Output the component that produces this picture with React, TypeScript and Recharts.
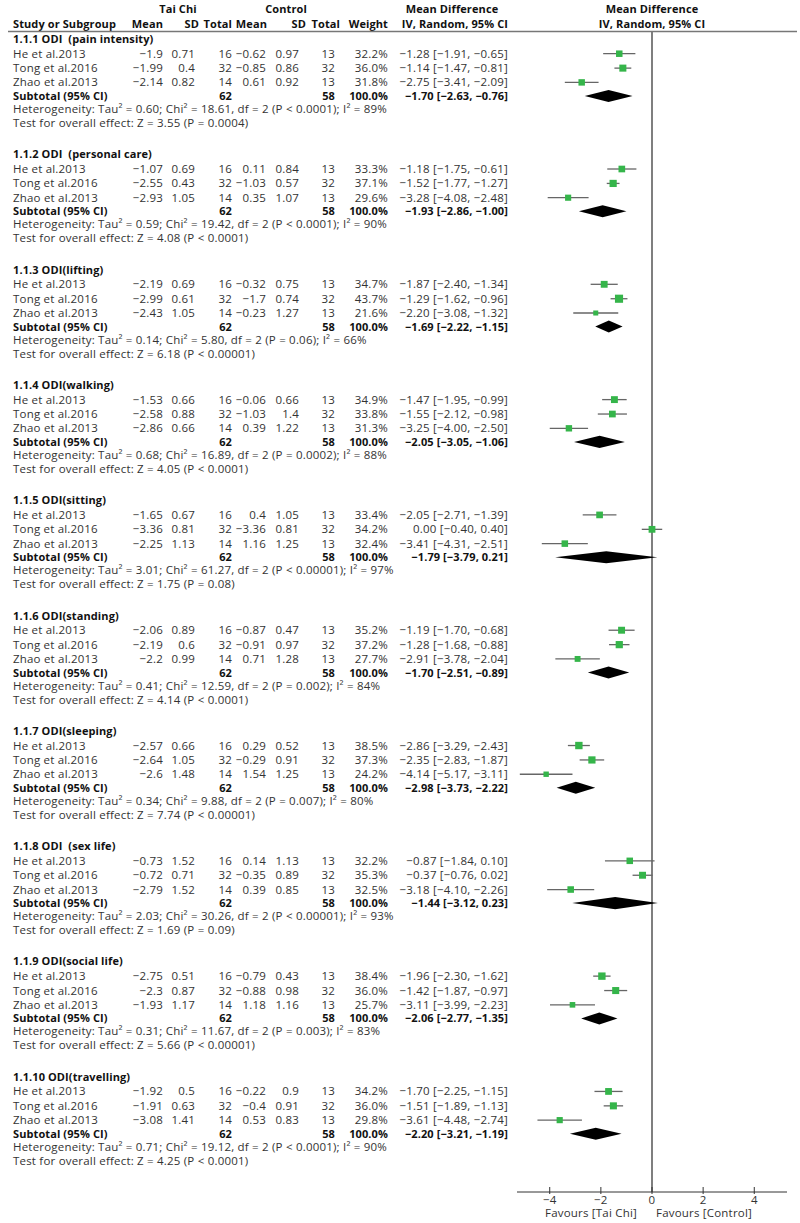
import { ScatterChart, Scatter, XAxis, YAxis, ErrorBar, ReferenceLine } from "recharts";

const subgroups = [
  "1.1.1 ODI  (pain intensity)",
  "1.1.2 ODI  (personal care)",
  "1.1.3 ODI(lifting)",
  "1.1.4 ODI(walking)",
  "1.1.5 ODI(sitting)",
  "1.1.6 ODI(standing)",
  "1.1.7 ODI(sleeping)",
  "1.1.8 ODI  (sex life)",
  "1.1.9 ODI(social life)",
  "1.1.10 ODI(travelling)",
];
const studies = ["He et al.2013", "Tong et al.2016", "Zhao et al.2013"];
const taiChiTotal = [16, 32, 14];
const controlTotal = [13, 32, 13];

const taiChiMean = [
  [-1.9, -1.99, -2.14],
  [-1.07, -2.55, -2.93],
  [-2.19, -2.99, -2.43],
  [-1.53, -2.58, -2.86],
  [-1.65, -3.36, -2.25],
  [-2.06, -2.19, -2.2],
  [-2.57, -2.64, -2.6],
  [-0.73, -0.72, -2.79],
  [-2.75, -2.3, -1.93],
  [-1.92, -1.91, -3.08],
];
const taiChiSD = [
  [0.71, 0.4, 0.82],
  [0.69, 0.43, 1.05],
  [0.69, 0.61, 1.05],
  [0.66, 0.88, 0.66],
  [0.67, 0.81, 1.13],
  [0.89, 0.6, 0.99],
  [0.66, 1.05, 1.48],
  [1.52, 0.71, 1.52],
  [0.51, 0.87, 1.17],
  [0.5, 0.63, 1.41],
];
const controlMean = [
  [-0.62, -0.85, 0.61],
  [0.11, -1.03, 0.35],
  [-0.32, -1.7, -0.23],
  [-0.06, -1.03, 0.39],
  [0.4, -3.36, 1.16],
  [-0.87, -0.91, 0.71],
  [0.29, -0.29, 1.54],
  [0.14, -0.35, 0.39],
  [-0.79, -0.88, 1.18],
  [-0.22, -0.4, 0.53],
];
const controlSD = [
  [0.97, 0.86, 0.92],
  [0.84, 0.57, 1.07],
  [0.75, 0.74, 1.27],
  [0.66, 1.4, 1.22],
  [1.05, 0.81, 1.25],
  [0.47, 0.97, 1.28],
  [0.52, 0.91, 1.25],
  [1.13, 0.89, 0.85],
  [0.43, 0.98, 1.16],
  [0.9, 0.91, 0.83],
];
const weights = [
  [32.2, 36.0, 31.8],
  [33.3, 37.1, 29.6],
  [34.7, 43.7, 21.6],
  [34.9, 33.8, 31.3],
  [33.4, 34.2, 32.4],
  [35.2, 37.2, 27.7],
  [38.5, 37.3, 24.2],
  [32.2, 35.3, 32.5],
  [38.4, 36.0, 25.7],
  [34.2, 36.0, 29.8],
];
const meanDiff = [
  [-1.28, -1.14, -2.75],
  [-1.18, -1.52, -3.28],
  [-1.87, -1.29, -2.2],
  [-1.47, -1.55, -3.25],
  [-2.05, 0.0, -3.41],
  [-1.19, -1.28, -2.91],
  [-2.86, -2.35, -4.14],
  [-0.87, -0.37, -3.18],
  [-1.96, -1.42, -3.11],
  [-1.7, -1.51, -3.61],
];
const ciLow = [
  [-1.91, -1.47, -3.41],
  [-1.75, -1.77, -4.08],
  [-2.4, -1.62, -3.08],
  [-1.95, -2.12, -4.0],
  [-2.71, -0.4, -4.31],
  [-1.7, -1.68, -3.78],
  [-3.29, -2.83, -5.17],
  [-1.84, -0.76, -4.1],
  [-2.3, -1.87, -3.99],
  [-2.25, -1.89, -4.48],
];
const ciHigh = [
  [-0.65, -0.81, -2.09],
  [-0.61, -1.27, -2.48],
  [-1.34, -0.96, -1.32],
  [-0.99, -0.98, -2.5],
  [-1.39, 0.4, -2.51],
  [-0.68, -0.88, -2.04],
  [-2.43, -1.87, -3.11],
  [0.1, 0.02, -2.26],
  [-1.62, -0.97, -2.23],
  [-1.15, -1.13, -2.74],
];
const subMeanDiff = [-1.7, -1.93, -1.69, -2.05, -1.79, -1.7, -2.98, -1.44, -2.06, -2.2];
const subLow = [-2.63, -2.86, -2.22, -3.05, -3.79, -2.51, -3.73, -3.12, -2.77, -3.21];
const subHigh = [-0.76, -1.0, -1.15, -1.06, 0.21, -0.89, -2.22, 0.23, -1.35, -1.19];
const tau2 = [0.6, 0.59, 0.14, 0.68, 3.01, 0.41, 0.34, 2.03, 0.31, 0.71];
const chi2 = [18.61, 19.42, 5.8, 16.89, 61.27, 12.59, 9.88, 30.26, 11.67, 19.12];
const hetP = ["< 0.0001", "< 0.0001", "= 0.06", "= 0.0002", "< 0.00001", "= 0.002", "= 0.007", "< 0.00001", "= 0.003", "< 0.0001"];
const iSquared = [89, 90, 66, 88, 97, 84, 80, 93, 83, 90];
const zValue = [3.55, 4.08, 6.18, 4.05, 1.75, 4.14, 7.74, 1.69, 5.66, 4.25];
const zP = ["= 0.0004", "< 0.0001", "< 0.00001", "< 0.0001", "= 0.08", "< 0.0001", "< 0.00001", "= 0.09", "< 0.00001", "< 0.0001"];
const xTicks = [-4, -2, 0, 2, 4];

// layout in row units (1 row = 14px)
const SECTION_STEP = 8.236;
const STUDY_OFFSET = [1.05, 2.08, 3.1];
const SUB_OFFSET = 4.07;
const HET_OFFSET = 5;
const TEST_OFFSET = 6;
const Y_DOMAIN: [number, number] = [-0.5714, 82.357];
const DIAMOND_HALF = 0.43;

const FONT = "'Open Sans', sans-serif";
const TXT = "#333";
const BOLD = "#111";
const GREEN = "#35b54a";

const neg = (s: string) => s.replace(/-/g, "\u2212");
const num = (v: number) => neg(String(v));
const f2 = (v: number) => neg(v.toFixed(2));
const ci = (m: number, l: number, h: number) => `${f2(m)} [${f2(l)}, ${f2(h)}]`;

type Row = { y: number; kind: string; s: number; i?: number };
const rows: Row[] = [];
subgroups.forEach((_, s) => {
  const base = s * SECTION_STEP;
  rows.push({ y: base, kind: "header", s });
  STUDY_OFFSET.forEach((o, i) => rows.push({ y: base + o, kind: "study", s, i }));
  rows.push({ y: base + SUB_OFFSET, kind: "sub", s });
  rows.push({ y: base + HET_OFFSET, kind: "het", s });
  rows.push({ y: base + TEST_OFFSET, kind: "test", s });
});
const rowByKey = new Map(rows.map((r) => [r.y.toFixed(3), r]));

const studyPoints = rows
  .filter((r) => r.kind === "study")
  .map((r) => {
    const s = r.s, i = r.i as number;
    return {
      x: meanDiff[s][i],
      y: r.y,
      w: weights[s][i],
      err: [meanDiff[s][i] - ciLow[s][i], ciHigh[s][i] - meanDiff[s][i]],
    };
  });

const diamonds = rows
  .filter((r) => r.kind === "sub")
  .map((r) => [
    { x: subLow[r.s], y: r.y },
    { x: subMeanDiff[r.s], y: r.y - DIAMOND_HALF },
    { x: subHigh[r.s], y: r.y },
    { x: subMeanDiff[r.s], y: r.y + DIAMOND_HALF },
  ]);

// regular text
const T = (p: any) => (
  <text fontSize={11.5} fill={TXT} letterSpacing={0.2} style={{ whiteSpace: "pre" }} {...p} />
);
// bold text
const B = (p: any) => (
  <text fontSize={11} fill={BOLD} fontWeight="bold" letterSpacing={0.1} style={{ whiteSpace: "pre" }} {...p} />
);

function RowTick({ y, payload }: any) {
  const r = rowByKey.get(Number(payload.value).toFixed(3));
  if (!r) return null;
  const ty = y + 4;
  const s = r.s;
  if (r.kind === "header") {
    return <B x={13} y={ty}>{subgroups[s]}</B>;
  }
  if (r.kind === "study") {
    const i = r.i as number;
    return (
      <g>
        <T x={13} y={ty}>{studies[i]}</T>
        <T x={163} y={ty} textAnchor="end">{num(taiChiMean[s][i])}</T>
        <T x={195} y={ty} textAnchor="end">{num(taiChiSD[s][i])}</T>
        <T x={232} y={ty} textAnchor="end">{taiChiTotal[i]}</T>
        <T x={266} y={ty} textAnchor="end">{num(controlMean[s][i])}</T>
        <T x={299} y={ty} textAnchor="end">{num(controlSD[s][i])}</T>
        <T x={335} y={ty} textAnchor="end">{controlTotal[i]}</T>
        <T x={388} y={ty} textAnchor="end">{weights[s][i].toFixed(1)}%</T>
        <T x={508} y={ty} textAnchor="end">{ci(meanDiff[s][i], ciLow[s][i], ciHigh[s][i])}</T>
      </g>
    );
  }
  if (r.kind === "sub") {
    const tc = taiChiTotal.reduce((a, b) => a + b, 0);
    const cc = controlTotal.reduce((a, b) => a + b, 0);
    return (
      <g>
        <B x={13} y={ty}>Subtotal (95% CI)</B>
        <B x={232} y={ty} textAnchor="end">{tc}</B>
        <B x={335} y={ty} textAnchor="end">{cc}</B>
        <B x={388} y={ty} textAnchor="end">100.0%</B>
        <B x={508} y={ty} textAnchor="end">{ci(subMeanDiff[s], subLow[s], subHigh[s])}</B>
      </g>
    );
  }
  if (r.kind === "het") {
    return (
      <T x={13} y={ty}>
        {`Heterogeneity: Tau\u00b2 = ${tau2[s].toFixed(2)}; Chi\u00b2 = ${chi2[s].toFixed(2)}, df = 2 (P ${hetP[s]}); I\u00b2 = ${iSquared[s]}%`}
      </T>
    );
  }
  return <T x={13} y={ty}>{`Test for overall effect: Z = ${zValue[s].toFixed(2)} (P ${zP[s]})`}</T>;
}

function AxisTick({ x, y, payload }: any) {
  const v = payload.value;
  return (
    <g>
      <line x1={x} x2={x} y1={y - 5} y2={y + 2} stroke="#333" strokeWidth={1} />
      <T x={x} y={y + 12} textAnchor="middle">{num(v)}</T>
      {v === 0 && (
        <>
          <T x={x - 15} y={y + 25} textAnchor="end">Favours [Tai Chi]</T>
          <T x={x + 4} y={y + 25}>Favours [Control]</T>
        </>
      )}
    </g>
  );
}

function Square({ cx, cy, payload }: any) {
  const size = 2 + payload.w * 0.14;
  return <rect x={cx - size / 2} y={cy - size / 2} width={size} height={size} fill={GREEN} />;
}

function DiamondPath(props: any) {
  const p = props.points;
  if (!p || p.length < 4) return null;
  const d = `M${p[0].x},${p[0].y}L${p[1].x},${p[1].y}L${p[2].x},${p[2].y}L${p[3].x},${p[3].y}Z`;
  return <path d={d} fill="#000" stroke="none" />;
}

const noShape = () => <g />;

function Header() {
  return (
    <svg width={800} height={40} style={{ position: "absolute", left: 0, top: 0, pointerEvents: "none" }}>
      <B x={178} y={13} textAnchor="middle">Tai Chi</B>
      <B x={286} y={13} textAnchor="middle">Control</B>
      <B x={452} y={13} textAnchor="middle">Mean Difference</B>
      <B x={652} y={13} textAnchor="middle">Mean Difference</B>
      <B x={13} y={28}>Study or Subgroup</B>
      <B x={163} y={28} textAnchor="end">Mean</B>
      <B x={199} y={28} textAnchor="end">SD</B>
      <B x={232} y={28} textAnchor="end">Total</B>
      <B x={267} y={28} textAnchor="end">Mean</B>
      <B x={306} y={28} textAnchor="end">SD</B>
      <B x={340} y={28} textAnchor="end">Total</B>
      <B x={388} y={28} textAnchor="end">Weight</B>
      <B x={508} y={28} textAnchor="end">IV, Random, 95% CI</B>
      <B x={652} y={28} textAnchor="middle">IV, Random, 95% CI</B>
      <line x1={8} x2={797} y1={31.5} y2={31.5} stroke="#777" strokeWidth={1.5} />
    </svg>
  );
}

export default function App() {
  return (
    <div style={{ position: "absolute", left: 0, top: 0, width: 800, height: 1223, background: "#fff", fontFamily: FONT }}>
      <ScatterChart width={800} height={1223} margin={{ top: 31, right: 13, bottom: 0, left: 457 }}>
        <XAxis
          type="number"
          dataKey="x"
          domain={[-5.28, 5.28]}
          allowDataOverflow
          ticks={xTicks}
          interval={0}
          height={31}
          tickSize={0}
          tickMargin={0}
          tickLine={false}
          axisLine={{ stroke: "#333", strokeWidth: 1 }}
          tick={<AxisTick />}
        />
        <YAxis
          type="number"
          dataKey="y"
          domain={Y_DOMAIN}
          allowDataOverflow
          reversed
          ticks={rows.map((r) => r.y)}
          interval={0}
          width={60}
          axisLine={false}
          tickLine={false}
          tick={<RowTick />}
        />
        <ReferenceLine x={0} stroke="#555" strokeWidth={1.5} />
        <Scatter data={studyPoints} shape={<Square />} isAnimationActive={false}>
          <ErrorBar dataKey="err" direction="x" width={0} stroke="#666" strokeWidth={1.3} />
        </Scatter>
        {diamonds.map((d, k) => (
          <Scatter key={k} data={d} shape={noShape} line={DiamondPath} isAnimationActive={false} />
        ))}
      </ScatterChart>
      <Header />
    </div>
  );
}
